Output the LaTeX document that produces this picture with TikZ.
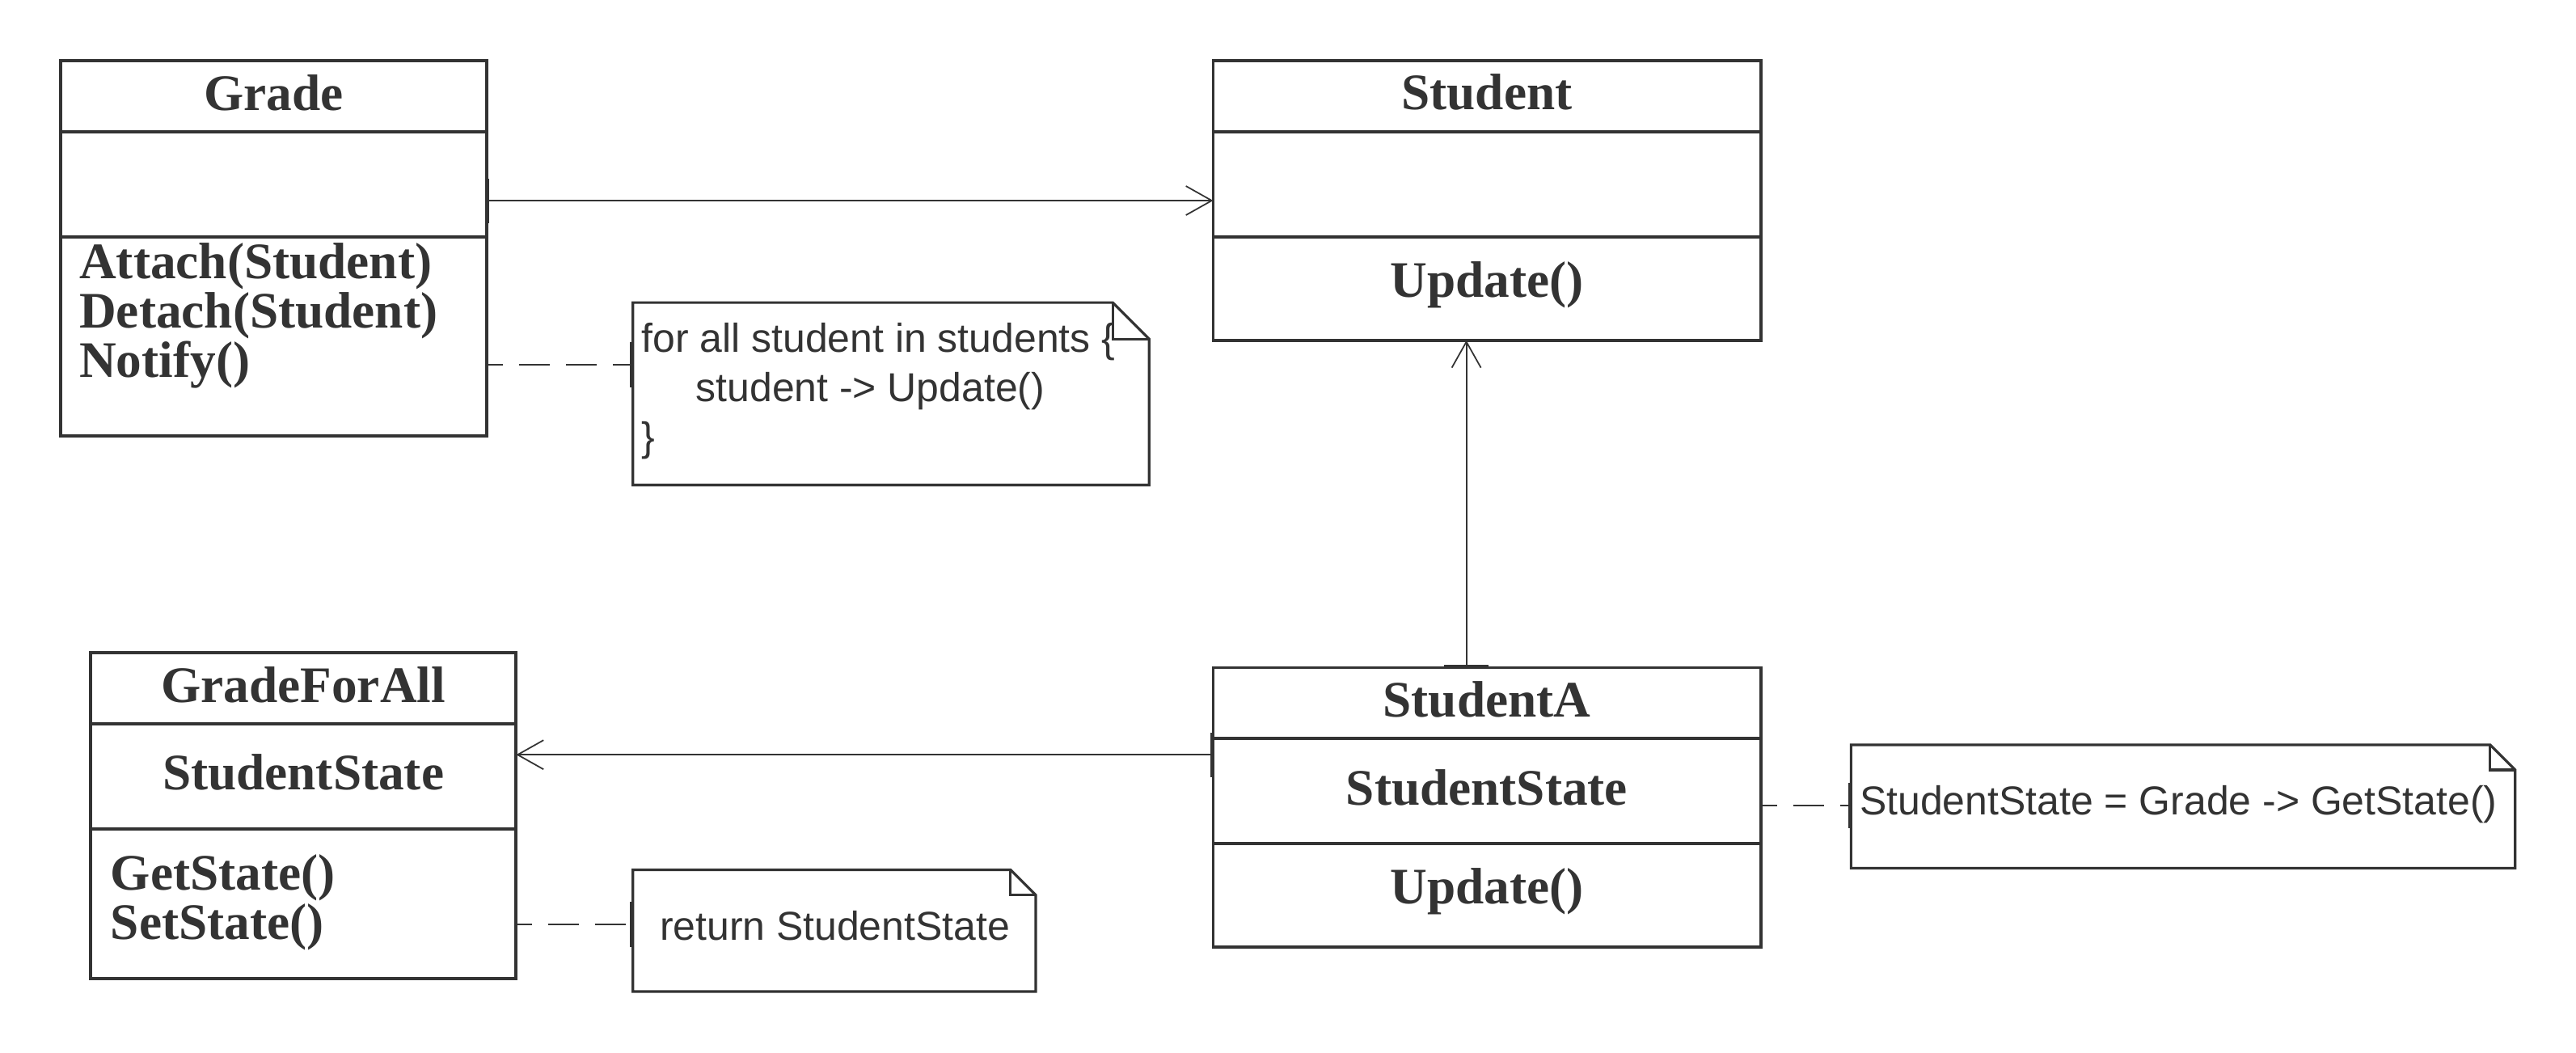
\documentclass[tikz,border=0pt]{standalone}
\usepackage{fontspec}
\setmainfont{Liberation Serif}
\newfontfamily\notefont{Liberation Sans}
\usetikzlibrary{arrows.meta,fit}
\definecolor{ink}{HTML}{333333}

\begin{document}
\begin{tikzpicture}[x=0.020332cm,y=-0.020332cm,
        part/.style={draw=ink,line width=1.1pt,inner sep=0pt,outer sep=0pt},
        classtext/.style={inner sep=0pt,text=ink,yshift=0.045cm,font=\fontsize{18}{18}\selectfont\bfseries},
        ops/.style={anchor=west,align=left,inner sep=0pt,text=ink,
            font=\fontsize{18}{14.5}\selectfont\bfseries},
        notearea/.style={inner sep=0pt,outer sep=0pt},
        notedraw/.style={draw=ink,line width=0.9pt,line join=miter},
        notetext/.style={anchor=west,align=left,inner sep=0pt,text=ink,
            font=\notefont\fontsize{14.2}{17.4}\selectfont},
        assoc/.style={draw=ink,line width=0.5pt,
            {Bar[width=0.55cm,line width=1pt]}-{Straight Barb[length=0.32cm,width=0.36cm]}},
        link/.style={draw=ink,line width=0.55pt,dash pattern=on 0.38cm off 0.2cm,dash phase=0.18cm,
            -{Bar[width=0.56cm,line width=1pt]}}]

    \useasboundingbox (0,0) rectangle (1567,640);

    % Grade
    \node[part,fit={(37,37) (296,80)},label={[classtext]center:Grade}] (grade-head) {};
    \node[part,fit={(37,80) (296,144)}] (grade-attr) {};
    \node[part,fit={(37,144) (296,265)}] (grade-ops) {};
    \node[ops] (grade-list) at (48,192) {Attach(Student)\\Detach(Student)\\Notify()};

    % Student
    \node[part,fit={(738,37) (1071,80)},label={[classtext]center:Student}] (student-head) {};
    \node[part,fit={(738,80) (1071,144)}] (student-attr) {};
    \node[part,fit={(738,144) (1071,207)},label={[classtext]center:Update()}] (student-ops) {};

    % GradeForAll
    \node[part,fit={(55,397) (314,440)},label={[classtext]center:GradeForAll}] (gradeforall-head) {};
    \node[part,fit={(55,440) (314,504)},label={[classtext]center:StudentState}] (gradeforall-attr) {};
    \node[part,fit={(55,504) (314,595)}] (gradeforall-ops) {};
    \node[ops] (gradeforall-list) at (67,549) {GetState()\\SetState()};

    % StudentA
    \node[part,fit={(738,406) (1071,449)},label={[classtext]center:StudentA}] (studenta-head) {};
    \node[part,fit={(738,449) (1071,513)},label={[classtext]center:StudentState}] (studenta-attr) {};
    \node[part,fit={(738,513) (1071,576)},label={[classtext]center:Update()}] (studenta-ops) {};

    % notes
    \node[notearea,fit={(385,184) (699,295)}] (forall) {};
    \draw[notedraw] (forall.north west) -- ([xshift=-0.45cm]forall.north east)
        -- ([yshift=-0.45cm]forall.north east) -- (forall.south east) -- (forall.south west) -- cycle;
    \draw[notedraw] ([xshift=-0.45cm]forall.north east) |- ([yshift=-0.45cm]forall.north east);
    \node[notetext] (forall-text) at (390,238)
        {for all student in students \{\\\hspace*{0.67cm}student -> Update()\\\}};

    \node[notearea,fit={(385,529) (630,603)}] (ret) {};
    \draw[notedraw] (ret.north west) -- ([xshift=-0.31cm]ret.north east)
        -- ([yshift=-0.31cm]ret.north east) -- (ret.south east) -- (ret.south west) -- cycle;
    \draw[notedraw] ([xshift=-0.31cm]ret.north east) |- ([yshift=-0.31cm]ret.north east);
    \node[notetext] (ret-text) at (401,563) {return StudentState};

    \node[notearea,fit={(1126,453) (1530,528)}] (getstate) {};
    \draw[notedraw] (getstate.north west) -- ([xshift=-0.31cm]getstate.north east)
        -- ([yshift=-0.31cm]getstate.north east) -- (getstate.south east) -- (getstate.south west) -- cycle;
    \draw[notedraw] ([xshift=-0.31cm]getstate.north east) |- ([yshift=-0.31cm]getstate.north east);
    \node[notetext] (getstate-text) at (1131,489) {StudentState = Grade -> GetState()};

    % connectors
    \draw[assoc] (grade-attr.east |- 0,122) -- (student-attr.west |- 0,122);
    \draw[assoc] (studenta-head.north -| 892,0) -- (student-ops.south -| 892,0);
    \draw[assoc] (studenta-attr.west |- 0,459) -- (gradeforall-attr.east |- 0,459);
    \draw[link] (grade-ops.east |- 0,222) -- (forall.west |- 0,222);
    \draw[link] (gradeforall-ops.east |- 0,562) -- (ret.west |- 0,562);
    \draw[link] (studenta-attr.east |- 0,490) -- (getstate.west |- 0,490);
\end{tikzpicture}
\end{document}
